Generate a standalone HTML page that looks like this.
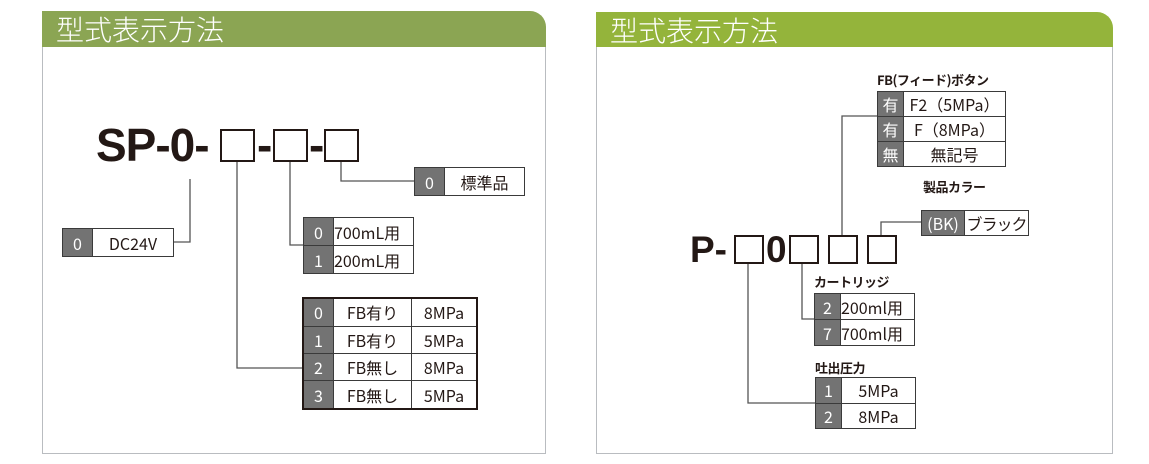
<!DOCTYPE html>
<html><head><meta charset="utf-8"><style>
body{margin:0;width:1149px;height:464px;background:#fff;position:relative;overflow:hidden;font-family:"Liberation Sans","Noto Sans CJK JP",sans-serif;}
.a{position:absolute;}
.panel{position:absolute;border:1px solid #b9bcc0;border-top:none;box-sizing:border-box;}
.hdr{position:absolute;border-radius:0 16px 0 0;color:#fff;font-size:28px;line-height:36px;padding-left:14px;box-sizing:border-box;font-family:"Noto Sans CJK JP",sans-serif;font-weight:300;}
table{position:absolute;border-collapse:collapse;font-family:"Noto Sans CJK JP","Liberation Sans",sans-serif;font-size:16px;color:#231815;}
td{border:1.5px solid #3a3a3a;padding:0;text-align:center;background:#fff;line-height:1;white-space:nowrap;}
td.n{background:#737373;color:#fff;}
.sq{position:absolute;border:2px solid #231815;box-sizing:border-box;}
.lbl{position:absolute;font-family:"Noto Sans CJK JP",sans-serif;font-weight:700;font-size:13px;color:#231815;letter-spacing:-0.5px;white-space:nowrap;}
</style></head><body>
<div class="panel" style="left:42px;top:47px;width:504px;height:407px"></div>
<div class="hdr" style="left:42px;top:11px;width:504px;height:36px;background:#8ba553">型式表示方法</div>
<div class="panel" style="left:596px;top:47px;width:517px;height:407px"></div>
<div class="hdr" style="left:596px;top:12px;width:517px;height:35px;background:#94b43b">型式表示方法</div>

<svg class="a" style="left:0;top:0" width="1149" height="464">
<g fill="none" stroke="#555" stroke-width="1.3">
<polyline points="237,161 237,368 302,368"/>
<polyline points="290,161 290,245 303,245"/>
<polyline points="341,161 341,181 414,181"/>
<polyline points="190,179 190,242 173,242"/>
<polyline points="842,235 842,116 877,116"/>
<polyline points="881,235 881,222 921,222"/>
<polyline points="802,264 802,319 814,319"/>
<polyline points="748,264 748,403 815,403"/>
</g>
</svg>

<div class="a" style="left:96px;top:122px;font-size:46px;font-weight:700;color:#231815;line-height:46px;letter-spacing:-1px">SP-0-</div>
<div class="sq" style="left:220px;top:129px;width:35px;height:33px"></div>
<div class="a" style="left:257px;top:122px;font-size:46px;font-weight:700;color:#231815;line-height:46px">-</div>
<div class="sq" style="left:273px;top:129px;width:35px;height:33px"></div>
<div class="a" style="left:309px;top:122px;font-size:46px;font-weight:700;color:#231815;line-height:46px">-</div>
<div class="sq" style="left:324px;top:129px;width:35px;height:33px"></div>

<table style="left:62px;top:228px;width:112px;height:29px"><tr><td class="n" style="width:29px">0</td><td>DC24V</td></tr></table>
<table style="left:414px;top:167px;width:111px;height:29px"><tr><td class="n" style="width:29px">0</td><td>標準品</td></tr></table>
<table style="left:303px;top:217px;width:111px;height:57px"><tr><td class="n" style="width:29px">0</td><td style="text-align:left">700mL用</td></tr><tr><td class="n">1</td><td style="text-align:left">200mL用</td></tr></table>
<table style="left:302px;top:297px;width:176px;height:113px;border:2px solid #231815"><tr><td class="n" style="width:29px">0</td><td style="width:77px">FB有り</td><td>8MPa</td></tr><tr><td class="n">1</td><td>FB有り</td><td>5MPa</td></tr><tr><td class="n">2</td><td>FB無し</td><td>8MPa</td></tr><tr><td class="n">3</td><td>FB無し</td><td>5MPa</td></tr></table>

<div class="a" style="left:690px;top:230px;font-size:37px;font-weight:700;color:#231815;line-height:40px">P-</div>
<div class="sq" style="left:734px;top:235px;width:30px;height:29px"></div>
<div class="a" style="left:766px;top:230px;font-size:37px;font-weight:700;color:#231815;line-height:40px">0</div>
<div class="sq" style="left:789px;top:235px;width:30px;height:29px"></div>
<div class="sq" style="left:828px;top:235px;width:30px;height:29px"></div>
<div class="sq" style="left:867px;top:235px;width:30px;height:29px"></div>

<div class="lbl" style="left:877px;top:70px">FB(フィード)ボタン</div>
<table style="left:877px;top:91px;width:129px;height:76px"><tr><td class="n" style="width:25px">有</td><td>F2（5MPa）</td></tr><tr><td class="n">有</td><td>F（8MPa）</td></tr><tr><td class="n">無</td><td>無記号</td></tr></table>
<div class="lbl" style="left:923px;top:177px">製品カラー</div>
<table style="left:921px;top:210px;width:108px;height:26px"><tr><td class="n" style="width:42px">(BK)</td><td style="letter-spacing:-1px">ブラック</td></tr></table>
<div class="lbl" style="left:814px;top:272px">カートリッジ</div>
<table style="left:814px;top:293px;width:101px;height:53px"><tr><td class="n" style="width:25px">2</td><td style="text-align:left">200ml用</td></tr><tr><td class="n">7</td><td style="text-align:left">700ml用</td></tr></table>
<div class="lbl" style="left:815px;top:358px">吐出圧力</div>
<table style="left:815px;top:377px;width:101px;height:52px"><tr><td class="n" style="width:25px">1</td><td>5MPa</td></tr><tr><td class="n">2</td><td>8MPa</td></tr></table>
</body></html>
